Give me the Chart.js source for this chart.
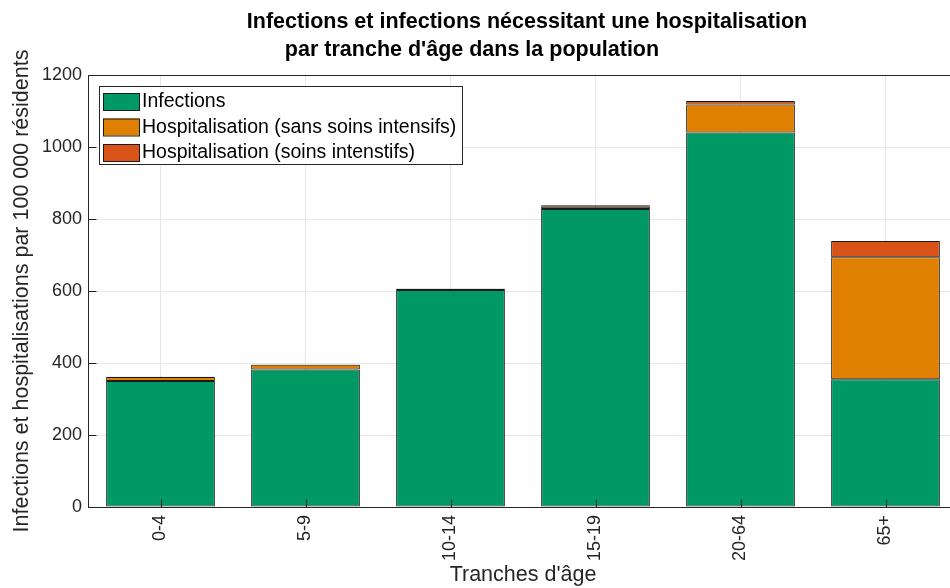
<!DOCTYPE html>
<html>
<head>
<meta charset="utf-8">
<script src="https://cdn.jsdelivr.net/npm/chart.js@4.4.0/dist/chart.umd.min.js"></script>
<style>
html, body { margin: 0; padding: 0; overflow: hidden; background: #fff; }
</style>
</head>
<body>
<canvas id="bar_chart" width="970" height="588"></canvas>
<script>
// data
const ageGroups = ['0-4', '5-9', '10-14', '15-19', '20-64', '65+'];
const infections = [350, 382, 603, 828, 1040, 355];
const hospNoICU = [11, 13, 3, 6, 78, 339];
const hospICU = [1, 1, 1, 4, 10, 45];
const yTicks = [0, 200, 400, 600, 800, 1000, 1200];

const seriesLabels = ['Infections', 'Hospitalisation (sans soins intensifs)', 'Hospitalisation (soins intenstifs)'];
const seriesColors = ['#009966', '#e08000', '#d95319'];

const FONT = 'Liberation Sans, Arial, Helvetica, sans-serif';
const INK = '#262626';

// title in two lines, like the original (not centred line by line)
const titlePlugin = {
    id: 'twoLineTitle',
    afterDraw(chart) {
        const ctx = chart.ctx;
        ctx.save();
        ctx.fillStyle = '#000';
        ctx.font = 'bold 21.5px ' + FONT;
        ctx.textAlign = 'center';
        ctx.textBaseline = 'middle';
        ctx.fillText('Infections et infections nécessitant une hospitalisation', 527, 22);
        ctx.fillText("par tranche d'âge dans la population", 472, 50);
        ctx.restore();
    }
};

// box round the axes, with small inward ticks
const boxPlugin = {
    id: 'axesBox',
    afterDatasetsDraw(chart) {
        const a = chart.chartArea;
        const ctx = chart.ctx;
        const l = Math.round(a.left) + 0.5, b = Math.round(a.bottom) + 0.5;
        ctx.save();
        ctx.strokeStyle = INK;
        ctx.lineWidth = 1;
        ctx.strokeRect(l, Math.round(a.top) + 0.5, a.right - a.left, a.bottom - a.top);
        ctx.beginPath();
        chart.scales.y.ticks.forEach(t => {
            const py = Math.round(chart.scales.y.getPixelForValue(t.value)) + 0.5;
            ctx.moveTo(l, py); ctx.lineTo(l + 8, py);
        });
        chart.scales.x.ticks.forEach((t, i) => {
            const px = Math.round(chart.scales.x.getPixelForValue(i)) + 0.5;
            ctx.moveTo(px, b); ctx.lineTo(px, b - 8);
        });
        ctx.stroke();
        ctx.restore();
    }
};

// legend drawn inside the axes, top left
const legendPlugin = {
    id: 'boxLegend',
    afterDraw(chart) {
        const ctx = chart.ctx;
        const x = 99, y = 86, w = 363, h = 78;
        ctx.save();
        ctx.fillStyle = '#fff';
        ctx.fillRect(x, y, w, h);
        ctx.strokeStyle = '#262626';
        ctx.lineWidth = 1;
        ctx.strokeRect(x + 0.5, y + 0.5, w, h);
        ctx.font = '19.5px ' + FONT;
        ctx.textBaseline = 'middle';
        for (var i = 0; i < chart.data.datasets.length; i++) {
            const ds = chart.data.datasets[i];
            const cy = y + 15 + i * 25.5;
            ctx.fillStyle = ds.backgroundColor;
            ctx.fillRect(x + 4, cy - 8, 36, 17);
            ctx.strokeStyle = '#1a1a1a';
            ctx.strokeRect(x + 4.5, cy - 7.5, 36, 17);
            ctx.fillStyle = '#000';
            ctx.fillText(ds.label, x + 43, cy + 1);
        }
        ctx.restore();
    }
};

const datasets = [infections, hospNoICU, hospICU].map((vals, i) => ({
    label: seriesLabels[i],
    data: vals,
    backgroundColor: seriesColors[i],
    borderColor: '#1a1a1a',
    borderWidth: 1,
    borderSkipped: false,
    barPercentage: 0.75,
    categoryPercentage: 1
}));

new Chart(document.getElementById('bar_chart'), {
    type: 'bar',
    data: { labels: ageGroups, datasets: datasets },
    options: {
        responsive: false,
        animation: false,
        layout: { padding: { top: 75, right: 12, left: 0, bottom: 0 } },
        plugins: {
            legend: { display: false },
            title: { display: false },
            tooltip: { enabled: false }
        },
        scales: {
            x: {
                stacked: true,
                offset: true,
                grid: { offset: false, color: '#e6e6e6', drawTicks: false },
                border: { display: false },
                ticks: {
                    color: INK,
                    font: { family: FONT, size: 18 },
                    minRotation: 90,
                    maxRotation: 90,
                    padding: 8
                },
                title: {
                    display: true,
                    text: "Tranches d'âge",
                    color: INK,
                    font: { family: FONT, size: 21.5 },
                    padding: 0
                },
                afterFit(scale) { scale.height = 81; }
            },
            y: {
                stacked: true,
                min: 0,
                max: 1200,
                grid: { color: '#e6e6e6', drawTicks: false },
                border: { display: false },
                afterBuildTicks(scale) { scale.ticks = yTicks.map(v => ({ value: v })); },
                ticks: {
                    color: INK,
                    font: { family: FONT, size: 18 },
                    padding: 6,
                    callback: v => String(v)
                },
                title: {
                    display: true,
                    text: 'Infections et hospitalisations par 100 000 résidents',
                    color: INK,
                    font: { family: FONT, size: 21.5 },
                    padding: { top: 9, bottom: 0 }
                },
                afterFit(scale) { scale.width = 88; }
            }
        }
    },
    plugins: [titlePlugin, boxPlugin, legendPlugin]
});
</script>
</body>
</html>
